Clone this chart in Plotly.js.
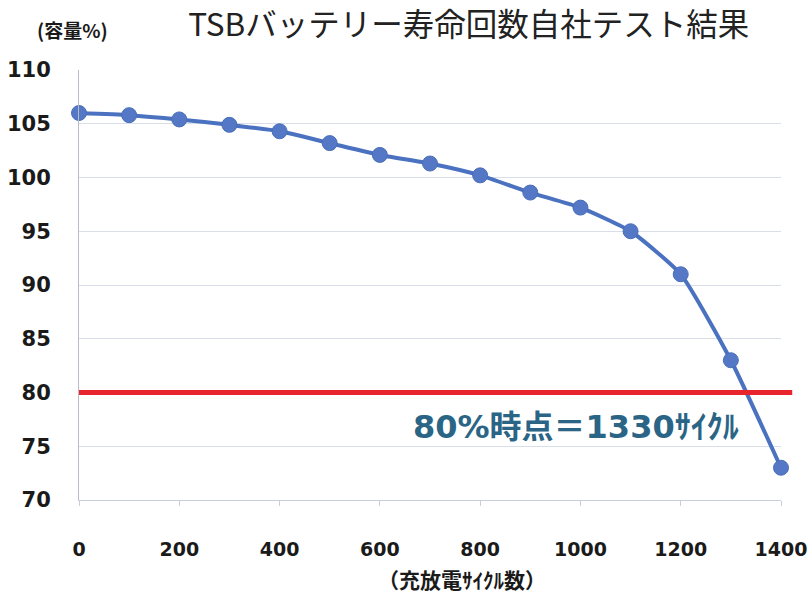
<!DOCTYPE html>
<html>
<head>
<meta charset="utf-8">
<script src="https://cdn.plot.ly/plotly-3.0.1.min.js"></script>
<style>html,body{margin:0;padding:0;background:#fff;}#chart{width:811px;height:598px;}</style>
</head>
<body>
<div id="chart"></div>
<script>
const cycles = [0, 100, 200, 300, 400, 500, 600, 700, 800, 900, 1000, 1100, 1200, 1300, 1400];
const capacity = [106.0, 105.8, 105.4, 104.9, 104.3, 103.2, 102.1, 101.3, 100.2, 98.6, 97.2, 95.0, 91.0, 83.0, 73.0];
const threshold = 80;
const xTicks = [0, 200, 400, 600, 800, 1000, 1200, 1400];
const yTicks = [70, 75, 80, 85, 90, 95, 100, 105, 110];
const titleText = 'TSBバッテリー寿命回数自社テスト結果';
const yUnitText = '(容量%)';
const xTitleText = '（充放電ｻｲｸﾙ数）';
const noteText = '80%時点＝1330ｻｲｸﾙ';

const font = '"Noto Sans CJK JP", "Noto Sans", sans-serif';
const numFont = '"DejaVu Sans", "Noto Sans CJK JP", sans-serif';

const trace = {
  x: cycles, y: capacity, type: 'scatter', mode: 'lines+markers',
  line: {color: '#4a72c0', width: 4, shape: 'spline', smoothing: 0.5},
  marker: {color: '#5578c6', size: 15, line: {color: '#4a6fb8', width: 1}},
  hoverinfo: 'skip', cliponaxis: false
};

const layout = {
  width: 811, height: 598,
  margin: {l: 79, r: 30, t: 70, b: 98},
  paper_bgcolor: '#ffffff', plot_bgcolor: '#ffffff',
  showlegend: false,
  title: {text: titleText, x: 0.578, xanchor: 'center', y: 0.958, yanchor: 'middle',
          font: {family: font, size: 31.5, color: '#222222'}},
  xaxis: {
    range: [0, 1400], tickvals: xTicks, ticktext: xTicks.map(String),
    showgrid: false, zeroline: false, showline: true, linecolor: '#c8cede', linewidth: 1,
    ticks: 'outside', ticklen: 5, tickcolor: '#c8cede',
    ticklabelstandoff: 27,
    tickfont: {family: numFont, size: 19, color: '#1a1a1a', weight: 'bold'}
  },
  yaxis: {
    range: [70, 110], tickvals: yTicks, ticktext: yTicks.map(String),
    showgrid: true, gridcolor: '#d9dee8', gridwidth: 1, zeroline: false,
    showline: true, linecolor: '#b8bcc4', linewidth: 1,
    ticks: '', ticklabelstandoff: 23,
    tickfont: {family: numFont, size: 21, color: '#1a1a1a', weight: 'bold'}
  },
  shapes: [
    {type: 'line', xref: 'paper', x0: 0, x1: 1.016, yref: 'y', y0: threshold, y1: threshold,
     line: {color: '#e8242c', width: 5}, layer: 'above'}
  ],
  annotations: [
    {text: yUnitText, xref: 'paper', yref: 'paper', x: -0.063, y: 1.095, xanchor: 'left', yanchor: 'middle',
     showarrow: false, font: {family: font, size: 19, color: '#1a1a1a', weight: 'bold'}},
    {text: xTitleText, xref: 'paper', yref: 'paper', x: 0.545, y: -0.183, xanchor: 'center', yanchor: 'middle',
     showarrow: false, font: {family: font, size: 21, color: '#1a1a1a', weight: 'bold'}},
    {text: noteText, xref: 'x', yref: 'y', x: 1330, y: threshold, xanchor: 'right', yanchor: 'top',
     yshift: -13, xshift: -5, showarrow: false,
     font: {family: numFont, size: 32, color: '#2a6586', weight: 'bold'}}
  ]
};

Plotly.newPlot('chart', [trace], layout, {displayModeBar: false, staticPlot: true});
</script>
</body>
</html>
